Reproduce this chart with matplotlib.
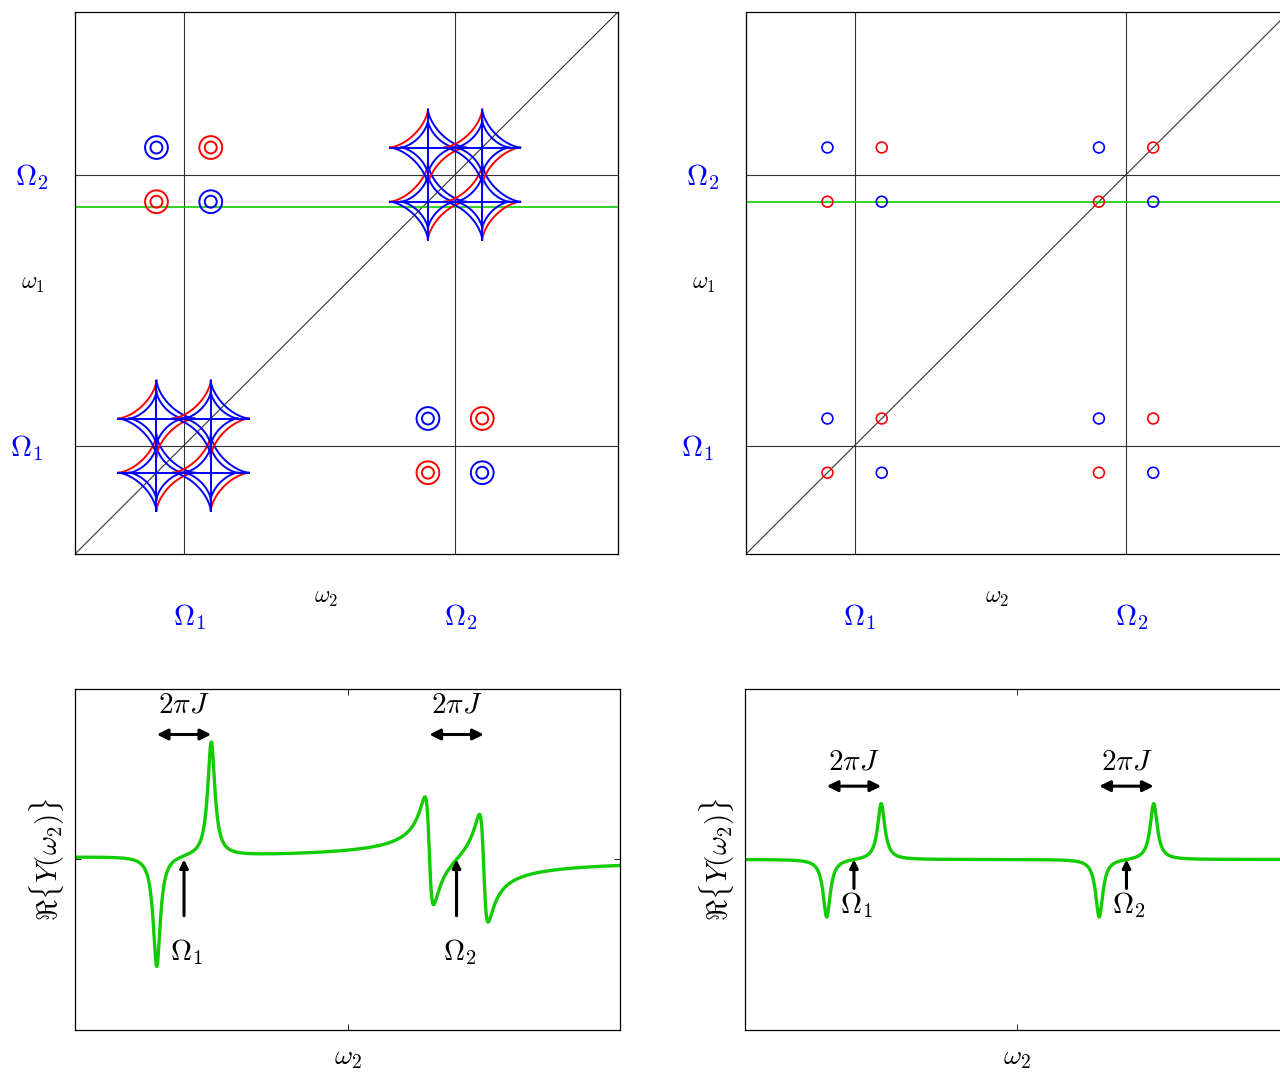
import numpy as np
import matplotlib

matplotlib.use("Agg")
import matplotlib.pyplot as plt
from matplotlib.transforms import blended_transform_factory

plt.rcParams["mathtext.fontset"] = "cm"
plt.rcParams["font.family"] = ["DejaVu Serif"]

# chemical shifts and coupling (same units on both axes)
shifts = [2.0, 7.0]          # Omega_1, Omega_2
half_j = 0.5                 # half of the 2*pi*J splitting
shift_labels = [r"$\Omega_1$", r"$\Omega_2$"]
slice_left = 6.4             # omega_1 of the green slice, left panel
slice_right = 6.5            # omega_1 of the green slice, right panel

# star (dispersive diagonal peak) arm sizes
star_outer = 0.70
star_inner = 0.50
# cross-peak circle radii
ring_outer = 0.21
ring_inner = 0.11
dot_radius = 0.10

# 1D traces: peak positions, amplitudes and kind (absorption / dispersion)
trace_pos = [1.5, 2.5, 6.5, 7.5]
left_amp = [-0.65, 0.67, -0.32, -0.32]
left_kind = ["abs", "abs", "disp", "disp"]
right_amp = [-0.34, 0.33, -0.34, 0.33]
right_kind = ["abs", "abs", "abs", "abs"]
hwhm = 0.08

BLUE = "#0000ff"
RED = "#ff0000"
GREEN = "#11cc00"
GRID = "#333333"


def lineshape(x, pos, amps, kinds, w):
    y = np.zeros_like(x)
    for p, a, k in zip(pos, amps, kinds):
        d = x - p
        if k == "abs":
            y += a * w**2 / (d**2 + w**2)
        else:
            y += a * 2 * w * d / (d**2 + w**2)
    return y


def frame_2d(ax, slice_y):
    ax.set_xlim(0, 10)
    ax.set_ylim(0, 10)
    ax.set_xticks([])
    ax.set_yticks([])
    for s in shifts:
        ax.axvline(s, color=GRID, lw=0.8, zorder=1)
        ax.axhline(s, color=GRID, lw=0.8, zorder=1)
    ax.plot([0, 10], [0, 10], color=GRID, lw=0.8, zorder=1)
    ax.axhline(slice_y, color=GREEN, lw=1.2, zorder=2)
    for sp in ax.spines.values():
        sp.set_linewidth(0.9)

    trans_y = blended_transform_factory(ax.transAxes, ax.transData)
    trans_x = blended_transform_factory(ax.transData, ax.transAxes)
    ax.text(-0.079, shifts[1] - 0.05, shift_labels[1], transform=trans_y, color=BLUE,
            fontsize=21, ha="center", va="center")
    ax.text(-0.090, shifts[0] - 0.05, shift_labels[0], transform=trans_y, color=BLUE,
            fontsize=21, ha="center", va="center")
    ax.text(-0.077, 5.0, r"$\omega_1$", transform=trans_y, fontsize=17,
            ha="center", va="center")
    for s, lab in zip(shifts, shift_labels):
        ax.text(s + 0.1, -0.116, lab, transform=trans_x, color=BLUE,
                fontsize=21, ha="center", va="center")
    ax.text(4.62, -0.081, r"$\omega_2$", transform=trans_x, fontsize=17,
            ha="center", va="center")


def quadrant_color(sx, sy):
    return BLUE if sx * sy < 0 else RED


t = np.linspace(0, np.pi / 2, 200)


def draw_star(ax, cx, cy):
    for sx in (-1, 1):
        for sy in (-1, 1):
            outer_col = RED if sx * sy < 0 else BLUE
            ax.plot(cx + sx * star_outer * np.cos(t) ** 3,
                    cy + sy * star_outer * np.sin(t) ** 3,
                    color=outer_col, lw=1.4, zorder=3)
            ax.plot(cx + sx * star_inner * np.cos(t) ** 3,
                    cy + sy * star_inner * np.sin(t) ** 3,
                    color=BLUE, lw=1.4, zorder=3)
    ax.plot([cx - star_outer, cx + star_outer], [cy, cy], color=BLUE, lw=1.4, zorder=4)
    ax.plot([cx, cx], [cy - star_outer, cy + star_outer], color=BLUE, lw=1.4, zorder=4)


def draw_rings(ax, cx, cy, sx, sy, radii, lw):
    col = quadrant_color(sx, sy)
    for r in radii:
        ax.add_patch(plt.Circle((cx, cy), r, fill=False, ec=col, lw=lw, zorder=3))


def trace_panel(ax, amps, kinds, arrow_y, label_y, tip_y, base_y, omega_y):
    x = np.linspace(0, 10, 3000)
    ax.plot(x, lineshape(x, trace_pos, amps, kinds, hwhm), color=GREEN, lw=2.4)
    ax.set_xlim(0, 10)
    ax.set_ylim(-1, 1)
    ax.set_xticks([5])
    ax.set_yticks([0])
    ax.tick_params(direction="in", length=4, width=0.6, top=True, right=True,
                   labelbottom=False, labelleft=False)
    for sp in ax.spines.values():
        sp.set_linewidth(0.9)
    ax.text(0.5, -0.082, r"$\omega_2$", transform=ax.transAxes, fontsize=20,
            ha="center", va="center")
    ax.text(-0.051, 0.5, r"$\Re\{Y(\omega_2)\}$", transform=ax.transAxes,
            fontsize=21, rotation=90, ha="center", va="center")
    for s, lab in zip(shifts, shift_labels):
        ax.annotate("", xy=(s + half_j, arrow_y), xytext=(s - half_j, arrow_y),
                    arrowprops=dict(arrowstyle="<|-|>", color="black", lw=2.2,
                                    mutation_scale=16, shrinkA=0, shrinkB=0))
        ax.text(s, label_y, r"$2\pi J$", fontsize=21, ha="center", va="center")
        ax.annotate("", xy=(s, tip_y), xytext=(s, base_y),
                    arrowprops=dict(arrowstyle="-|>", color="black", lw=2.2,
                                    mutation_scale=12, shrinkA=0, shrinkB=0))
        ax.text(s + 0.05, omega_y, lab, fontsize=21, ha="center", va="center")


fig = plt.figure(figsize=(12.8, 10.72), dpi=100)
ax_tl = fig.add_axes([0.0586, 0.4832, 0.4242, 0.5056])
ax_tr = fig.add_axes([0.5828, 0.4832, 0.4242, 0.5056])
ax_bl = fig.add_axes([0.0586, 0.0392, 0.4258, 0.3181])
ax_br = fig.add_axes([0.5820, 0.0392, 0.4258, 0.3181])

# top left: dispersive diagonal stars, absorptive anti-phase cross peaks
frame_2d(ax_tl, slice_left)
for a in shifts:
    for b in shifts:
        for sx in (-1, 1):
            for sy in (-1, 1):
                cx, cy = a + sx * half_j, b + sy * half_j
                if a == b:
                    draw_star(ax_tl, cx, cy)
                else:
                    draw_rings(ax_tl, cx, cy, sx, sy, [ring_outer, ring_inner], 1.4)

# top right: all peaks absorptive anti-phase
frame_2d(ax_tr, slice_right)
for a in shifts:
    for b in shifts:
        for sx in (-1, 1):
            for sy in (-1, 1):
                draw_rings(ax_tr, a + sx * half_j, b + sy * half_j, sx, sy,
                           [dot_radius], 1.2)

trace_panel(ax_bl, left_amp, left_kind, arrow_y=0.733, label_y=0.91,
            tip_y=0.0, base_y=-0.33, omega_y=-0.545)
trace_panel(ax_br, right_amp, right_kind, arrow_y=0.43, label_y=0.575,
            tip_y=0.0, base_y=-0.17, omega_y=-0.27)

fig.savefig("out.png", dpi=100)
